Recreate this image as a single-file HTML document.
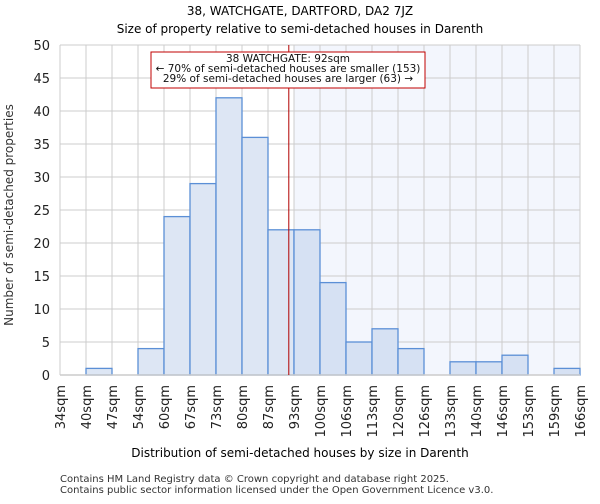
<!DOCTYPE html>
<html><head><meta charset="utf-8"><style>
body{margin:0;background:#fff;font-family:"DejaVu Sans","Liberation Sans",sans-serif;}
svg text{font-family:"DejaVu Sans","Liberation Sans",sans-serif;}
</style></head><body>
<svg id="chart" width="600" height="500">
<text x="300" y="15" text-anchor="middle" font-size="12">38, WATCHGATE, DARTFORD, DA2 7JZ</text>
<text x="300" y="33" text-anchor="middle" font-size="12">Size of property relative to semi-detached houses in Darenth</text>
<g id="plot"></g>
<text x="300" y="457" text-anchor="middle" font-size="12">Distribution of semi-detached houses by size in Darenth</text>
<text transform="translate(13,215) rotate(-90)" text-anchor="middle" font-size="12" fill="#333">Number of semi-detached properties</text>
<text x="60" y="482" font-size="10" fill="#333">Contains HM Land Registry data © Crown copyright and database right 2025.</text>
<text x="60" y="493" font-size="10" fill="#333">Contains public sector information licensed under the Open Government Licence v3.0.</text>
</svg>
<script>
const binLabels=["34sqm","40sqm","47sqm","54sqm","60sqm","67sqm","73sqm","80sqm","87sqm","93sqm","100sqm","106sqm","113sqm","120sqm","126sqm","133sqm","140sqm","146sqm","153sqm","159sqm","166sqm"];
const counts=[0,1,0,4,24,29,42,36,22,22,14,5,7,4,0,2,2,3,0,1];
const yTicks=[0,5,10,15,20,25,30,35,40,45,50];
const markerBin=8.8;
const NS="http://www.w3.org/2000/svg";
const L=60,R=580,T=45,B=375,yMax=50;
const n=counts.length,bw=(R-L)/n;
const xs=i=>L+i*bw, ys=v=>B-(v/yMax)*(B-T);
const g=document.getElementById('plot');
function mk(t,a){const e=document.createElementNS(NS,t);for(const k in a)e.setAttribute(k,a[k]);g.appendChild(e);return e;}
const mx=xs(markerBin);
const shadeStart=xs(Math.ceil(markerBin));
let e=mk('rect',{x:shadeStart,y:T,width:R-shadeStart,height:B-T,fill:'#f3f6fd'});


for(let i=0;i<=n;i++){e=mk('line',{x1:xs(i),x2:xs(i),y1:T,y2:B,stroke:'#cccccc','stroke-width':1});

}
yTicks.forEach(v=>{e=mk('line',{x1:L,x2:R,y1:ys(v),y2:ys(v),stroke:'#cccccc','stroke-width':1});


const t=mk('text',{x:L-10,y:ys(v)+5,'text-anchor':'end','font-size':13,fill:'#222'});t.textContent=v;

});
counts.forEach((c,i)=>{if(c<=0)return;
const r=mk('rect',{x:xs(i),y:ys(c),width:bw,height:B-ys(c),fill:i>=Math.ceil(markerBin)?'#d6e1f3':'#dde6f4',stroke:'#5b8fd6','stroke-width':1.3});

});
binLabels.forEach((l,i)=>{const t=mk('text',{transform:`translate(${xs(i)+5},${B+10}) rotate(-90)`,'text-anchor':'end','font-size':13,fill:'#222'});t.textContent=l;

});
e=mk('line',{x1:L,x2:R,y1:B,y2:B,stroke:'#cccccc','stroke-width':1.5});


e=mk('line',{x1:mx,x2:mx,y1:T,y2:B,stroke:'#b00000','stroke-width':1});


e=mk('rect',{x:151,y:52,width:274,height:36,fill:'#fff',stroke:'#c00000','stroke-width':1});


["38 WATCHGATE: 92sqm","← 70% of semi-detached houses are smaller (153)","29% of semi-detached houses are larger (63) →"].forEach((s,k)=>{
const t=mk('text',{x:288,y:62+k*10,'text-anchor':'middle','font-size':10.5,fill:'#111'});t.textContent=s;

});
</script>
</body></html>
